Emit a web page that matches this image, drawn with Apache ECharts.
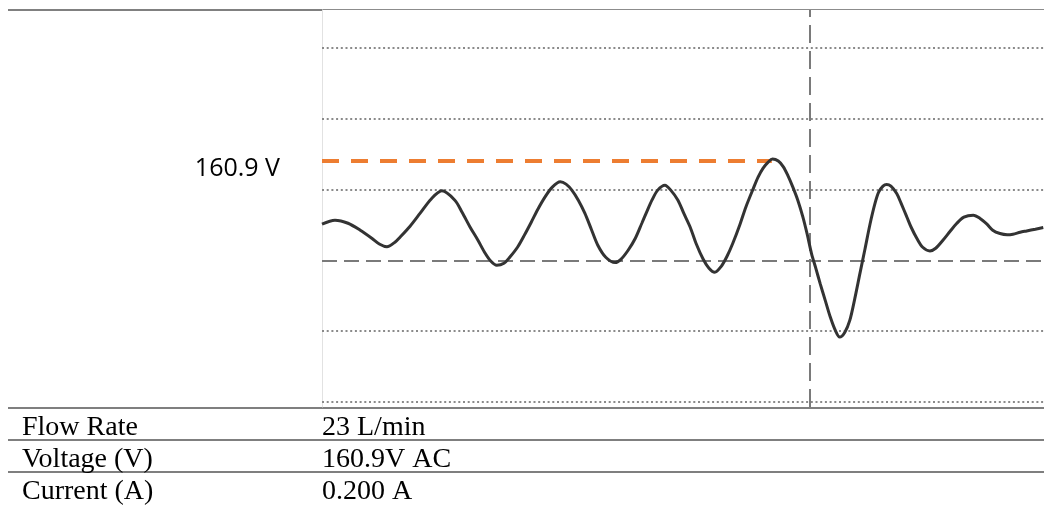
<!DOCTYPE html>
<html><head><meta charset="utf-8">
<script src="https://cdn.jsdelivr.net/npm/echarts@6/dist/echarts.min.js"></script>
<style>html,body{margin:0;padding:0;background:#fff}#c{width:1044px;height:515px}</style>
</head><body><div id="c"></div>
<script>
// time axis (arbitrary units 0..100 across the screen)
const timePoints = [0.0,1.8,3.6,5.3,6.9,8.0,9.0,10.1,10.8,12.2,13.6,15.1,16.6,18.4,19.4,20.5,21.6,22.6,23.4,24.2,25.2,26.0,27.1,28.1,29.0,29.9,30.9,31.9,33.0,33.8,34.6,35.5,36.4,37.3,38.2,39.3,40.6,41.4,42.4,43.4,44.3,44.9,45.7,46.5,47.5,48.3,49.3,50.1,51.0,51.8,52.8,53.6,54.4,55.3,56.1,56.9,57.9,58.7,59.7,60.4,61.1,61.8,62.4,63.2,63.9,64.5,65.2,65.9,66.6,67.2,67.8,68.4,69.0,69.7,70.4,71.1,71.7,72.4,73.1,73.8,74.5,75.2,75.9,76.6,77.1,77.7,78.2,78.8,79.6,80.2,81.0,81.6,82.4,83.2,84.2,85.0,86.0,87.0,87.9,88.9,90.2,91.1,92.1,92.9,93.9,94.9,95.7,96.7,97.6,98.8,99.9];
// voltage (V)
const voltages = [58.5,65,60.1,48.8,35.8,26,21.9,29.3,37.4,55.3,76.4,99.1,112.6,97.5,78,54.1,32.5,11.4,-1.6,-8.1,-4.9,4.9,21.6,42.3,62.2,82.9,102.9,118.6,127.2,123.5,113.8,97.5,76.4,50.4,24.4,4.9,-3.7,1.6,16.3,35.8,60.1,76.4,97.5,113.8,121.9,113.8,97.5,76.4,53.6,27.6,1.6,-13,-19.5,-9.8,6.5,27.6,58.5,86.1,115.4,134.9,149.5,159.3,164.1,160.9,151.6,138.1,119.1,97.5,70.4,42.3,10.9,-13,-37.9,-65,-92.1,-113.8,-124.6,-117,-97.5,-61.8,-21.6,17.9,58.5,92.6,110.5,120.3,123,120.3,108.4,92.6,70.4,53.6,35.3,21.1,15.1,19.5,32.5,47.1,59.6,69.9,73.1,68.3,58.5,48.8,43.4,41.4,42.3,45.5,47.6,50.4,53.1];
const peakVoltage = 160.9;
const peakTime = 62.3;
const cursorTime = 67.5;
const gridLevels = [-230, -115, 115, 230, 345];
const zeroLevel = 0;
const tableLabels = ['Flow Rate', 'Voltage (V)', 'Current (A)'];
const tableValues = ['23 L/min', '160.9V AC', '0.200 A'];

const chart = echarts.init(document.getElementById('c'));
const wave = timePoints.map((t, i) => [t, voltages[i]]);

const rowTops = [408, 440, 472];
const graphics = [];
graphics.push({type:'line', shape:{x1:8,y1:10,x2:322,y2:10}, style:{stroke:'#808080', lineWidth:2}});
graphics.push({type:'line', shape:{x1:322,y1:9.5,x2:1044,y2:9.5}, style:{stroke:'#8c8c8c', lineWidth:1}});
rowTops.forEach(y => graphics.push({type:'line', shape:{x1:8,y1:y,x2:1044,y2:y}, style:{stroke:'#7f7f7f', lineWidth:2}}));
tableLabels.forEach((t, i) => {
  graphics.push({type:'text', x:22, y:rowTops[i]+20, style:{text:t, font:'28px "Liberation Serif"', fill:'#000', verticalAlign:'middle'}});
  graphics.push({type:'text', x:322, y:rowTops[i]+20, style:{text:tableValues[i], font:'28px "Liberation Serif"', fill:'#000', verticalAlign:'middle'}});
});

chart.setOption({
  animation: false,
  grid: {left: 322, right: 0, top: 10, bottom: 108},
  xAxis: {type:'value', min:0, max:100, axisLine:{show:false}, axisTick:{show:false}, axisLabel:{show:false}, splitLine:{show:false}},
  yAxis: {type:'value', min:-238, max:406, axisLine:{show:true, lineStyle:{color:'#e2e2e2', width:1}}, axisTick:{show:false}, axisLabel:{show:false}, splitLine:{show:false}},
  graphic: graphics,
  series: [
    {type:'line', data:[], z:1, markLine:{silent:true, symbol:'none', label:{show:false},
      lineStyle:{color:'#8a8a8a', width:2, type:[2,2.7]}, data: gridLevels.map(v => ({yAxis:v}))}},
    {type:'line', data:[], z:2, markLine:{silent:true, symbol:'none', label:{show:false},
      lineStyle:{color:'#7a7a7a', width:2, type:[15,7]}, data:[{yAxis:zeroLevel}]}},
    {type:'line', data:[], z:2, markLine:{silent:true, symbol:'none', label:{show:false},
      lineStyle:{color:'#7a7a7a', width:2, type:[18,8]}, data:[{xAxis:cursorTime}]}},
    {type:'line', data:[], z:3, markLine:{silent:true, symbol:'none',
      lineStyle:{color:'#ED7D31', width:4, type:[17,12]},
      label:{show:true, position:'start', distance:42, formatter: () => '\n' + peakVoltage + ' V', color:'#000', fontFamily:'Open Sans', fontSize:25, lineHeight:16},
      data:[[{coord:[0, peakVoltage]}, {coord:[peakTime, peakVoltage]}]]}},
    {type:'line', data: wave, z:5, symbol:'none', smooth:0.3, lineStyle:{color:'#333333', width:3}}
  ]
});
</script></body></html>
